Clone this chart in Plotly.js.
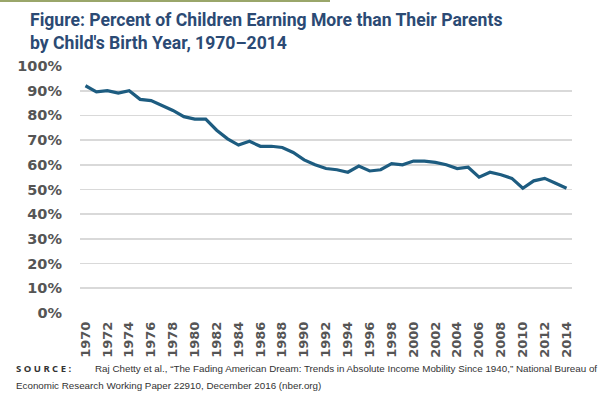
<!DOCTYPE html>
<html>
<head>
<meta charset="utf-8">
<script src="https://cdn.plot.ly/plotly-3.0.1.min.js"></script>
<style>
html,body{margin:0;padding:0;background:#fff;}
#wrap{position:relative;width:600px;height:396px;}
#topline{position:absolute;left:0;top:0;width:330px;height:2px;background:#9aa66a;z-index:5;}
#chart{width:600px;height:396px;}
</style>
</head>
<body>
<div id="wrap"><div id="topline"></div><div id="chart"></div></div>
<script>
const years = [1970,1971,1972,1973,1974,1975,1976,1977,1978,1979,1980,1981,1982,1983,1984,1985,1986,1987,1988,1989,1990,1991,1992,1993,1994,1995,1996,1997,1998,1999,2000,2001,2002,2003,2004,2005,2006,2007,2008,2009,2010,2011,2012,2013,2014];
const pctEarningMore = [92,89.5,90,89,90,86.5,86,84,82,79.5,78.5,78.5,74,70.5,68,69.5,67.5,67.5,67,65,62,60,58.5,58,57,59.5,57.5,58,60.5,60,61.5,61.5,61,60,58.5,59,55,57,56,54.5,50.5,53.5,54.5,52.5,50.5];
const yTicks = [0,10,20,30,40,50,60,70,80,90,100];
const xTicks = [1970,1972,1974,1976,1978,1980,1982,1984,1986,1988,1990,1992,1994,1996,1998,2000,2002,2004,2006,2008,2010,2012,2014];
const titleText = "Figure: Percent of Children Earning More than Their Parents<br>by Child's Birth Year, 1970–2014";
const sourceLabel = "S O U R C E :";
const sourceLine1 = "Raj Chetty et al., “The Fading American Dream: Trends in Absolute Income Mobility Since 1940,” National Bureau of";
const sourceLine2 = "Economic Research Working Paper 22910, December 2016 (nber.org)";

const L = 80, R = 28, T = 66, B = 83, W = 600, H = 396;
const pw = W - L - R, ph = H - T - B;
const px = x => (x - L) / pw;
const py = y => (H - B - y) / ph;

const trace = {
  x: years, y: pctEarningMore, type: 'scatter', mode: 'lines',
  line: {color: '#1d5c80', width: 3.2, shape: 'linear'},
  hoverinfo: 'skip'
};

const layout = {
  width: W, height: H,
  margin: {l: L, r: R, t: T, b: B, pad: 0},
  paper_bgcolor: '#fff', plot_bgcolor: '#fff',
  showlegend: false,
  xaxis: {
    range: [1969.5, 2014.5], tickvals: xTicks, ticktext: xTicks.map(String),
    tickangle: -90, showgrid: false, zeroline: false, showline: false, ticks: '',
    ticklabelstandoff: 5,
    tickfont: {family: '"DejaVu Sans"', size: 13, color: '#555', weight: 700},
    fixedrange: true
  },
  yaxis: {
    range: [0, 100], tickvals: yTicks, ticktext: yTicks.map(v => v + '%'),
    showgrid: true, gridcolor: '#d9d9d9', gridwidth: 1.6, zeroline: false, showline: false,
    ticks: '', ticklabelstandoff: 17,
    tickfont: {family: '"DejaVu Sans"', size: 14.5, color: '#555', weight: 700},
    fixedrange: true
  },
  annotations: [
    {text: titleText, xref: 'paper', yref: 'paper', x: px(28), y: py(8), xanchor: 'left', yanchor: 'top', align: 'left',
     showarrow: false, font: {family: 'Roboto, sans-serif', size: 17.6, color: '#2b4a74', weight: 700}},
    {text: sourceLabel, xref: 'paper', yref: 'paper', x: px(14), y: py(368), xanchor: 'left', yanchor: 'middle',
     showarrow: false, font: {family: 'Open Sans, sans-serif', size: 9.5, color: '#333', weight: 700}},
    {text: sourceLine1, xref: 'paper', yref: 'paper', x: px(93), y: py(368), xanchor: 'left', yanchor: 'middle',
     showarrow: false, font: {family: 'Liberation Sans, Arial, sans-serif', size: 9.8, color: '#333'}},
    {text: sourceLine2, xref: 'paper', yref: 'paper', x: px(14), y: py(385), xanchor: 'left', yanchor: 'middle',
     showarrow: false, font: {family: 'Liberation Sans, Arial, sans-serif', size: 9.8, color: '#333'}}
  ]
};

Plotly.newPlot('chart', [trace], layout, {displayModeBar: false, staticPlot: true});
</script>
</body>
</html>
